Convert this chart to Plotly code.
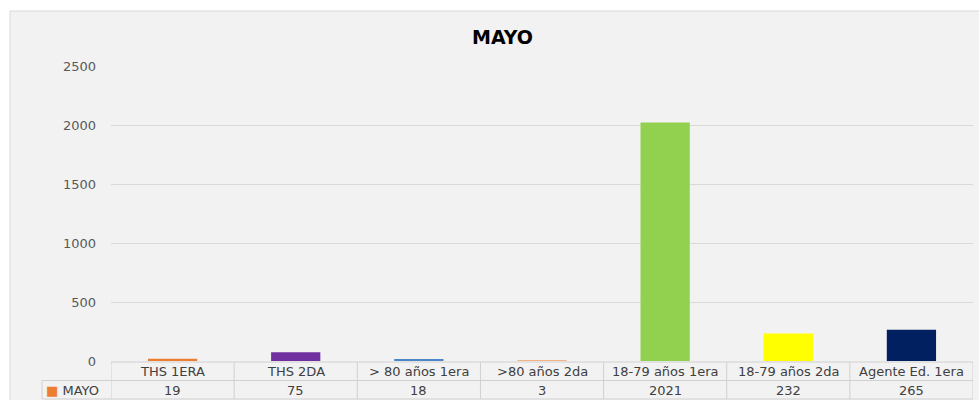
import plotly.graph_objects as go

categories = ["THS 1ERA", "THS 2DA", "> 80 años 1era", ">80 años 2da",
              "18-79 años 1era", "18-79 años 2da", "Agente Ed. 1era"]
values = [19, 75, 18, 3, 2021, 232, 265]
colors = ["#ED7D31", "#7030A0", "#4A86C8", "#F4B183", "#92D050", "#FFFF00", "#002060"]
series_name = "MAYO"
y_ticks = [0, 500, 1000, 1500, 2000, 2500]

FONT = "'DejaVu Sans', sans-serif"
W, H = 979, 400
ML, MR, MT, MB = 111, 6, 66, 39
pw = W - ML - MR
ph = H - MT - MB

def px_x(p):
    return (p - ML) / pw

def px_y(p):
    return (H - MB - p) / ph

idx = list(range(len(categories)))

fig = go.Figure()
fig.add_trace(go.Bar(x=idx, y=values, marker=dict(color=colors, line=dict(width=0)),
                     width=0.4, showlegend=False, hoverinfo="y"))

shapes = []
# chart background/border
shapes.append(dict(type="rect", xref="paper", yref="paper",
                   x0=px_x(10), x1=px_x(985), y0=px_y(405), y1=px_y(11),
                   fillcolor="#F2F2F2", line=dict(color="#D9D9D9", width=1), layer="below"))
line_col = "#D0D0D0"
# table horizontal lines
shapes.append(dict(type="line", xref="paper", yref="paper", x0=0, x1=1,
                   y0=px_y(362), y1=px_y(362), line=dict(color=line_col, width=1)))
shapes.append(dict(type="line", xref="paper", yref="paper", x0=px_x(42), x1=1,
                   y0=px_y(380.5), y1=px_y(380.5), line=dict(color=line_col, width=1)))
shapes.append(dict(type="line", xref="paper", yref="paper", x0=px_x(42), x1=1,
                   y0=px_y(399), y1=px_y(399), line=dict(color=line_col, width=1)))
shapes.append(dict(type="line", xref="paper", yref="paper", x0=px_x(42), x1=px_x(42),
                   y0=px_y(380.5), y1=px_y(399), line=dict(color=line_col, width=1)))
for i in range(len(categories) + 1):
    shapes.append(dict(type="line", xref="x", yref="paper", x0=i - 0.5, x1=i - 0.5,
                       y0=px_y(362), y1=px_y(399), line=dict(color=line_col, width=1)))

annotations = []
for i, (c, v) in enumerate(zip(categories, values)):
    annotations.append(dict(x=i, y=px_y(371.5), xref="x", yref="paper", text=c,
                            showarrow=False, font=dict(family=FONT, size=13, color="#404040"),
                            xanchor="center", yanchor="middle"))
    annotations.append(dict(x=i, y=px_y(390.5), xref="x", yref="paper", text=str(v),
                            showarrow=False, font=dict(family=FONT, size=13, color="#404040"),
                            xanchor="center", yanchor="middle"))
annotations.append(dict(x=px_x(44), y=px_y(390.5), xref="paper", yref="paper",
                        text="<span style='color:#ED7D31'>■</span> " + series_name,
                        showarrow=False, font=dict(family=FONT, size=13, color="#404040"),
                        xanchor="left", yanchor="middle"))
annotations.append(dict(x=px_x(502), y=px_y(37), xref="paper", yref="paper",
                        text="<b>" + series_name + "</b>", showarrow=False,
                        font=dict(family=FONT, size=19, color="#000000"),
                        xanchor="center", yanchor="middle"))

fig.update_layout(
    width=W, height=H,
    margin=dict(l=ML, r=MR, t=MT, b=MB, autoexpand=False),
    paper_bgcolor="white", plot_bgcolor="rgba(0,0,0,0)",
    shapes=shapes, annotations=annotations,
    xaxis=dict(range=[-0.5, len(categories) - 0.5], showticklabels=False,
               showgrid=False, zeroline=False, showline=False, fixedrange=True),
    yaxis=dict(range=[0, 2500], tickvals=y_ticks, showgrid=True, gridcolor="#D9D9D9",
               gridwidth=1, zeroline=False, showline=False, ticks="",
               ticklabelstandoff=14,
               tickfont=dict(family=FONT, size=13, color="#595959")),
    bargap=0.6,
)

fig.write_html("out.html", config={"displayModeBar": False},
               post_script="document.body.style.margin='0';document.body.style.overflow='hidden';")
